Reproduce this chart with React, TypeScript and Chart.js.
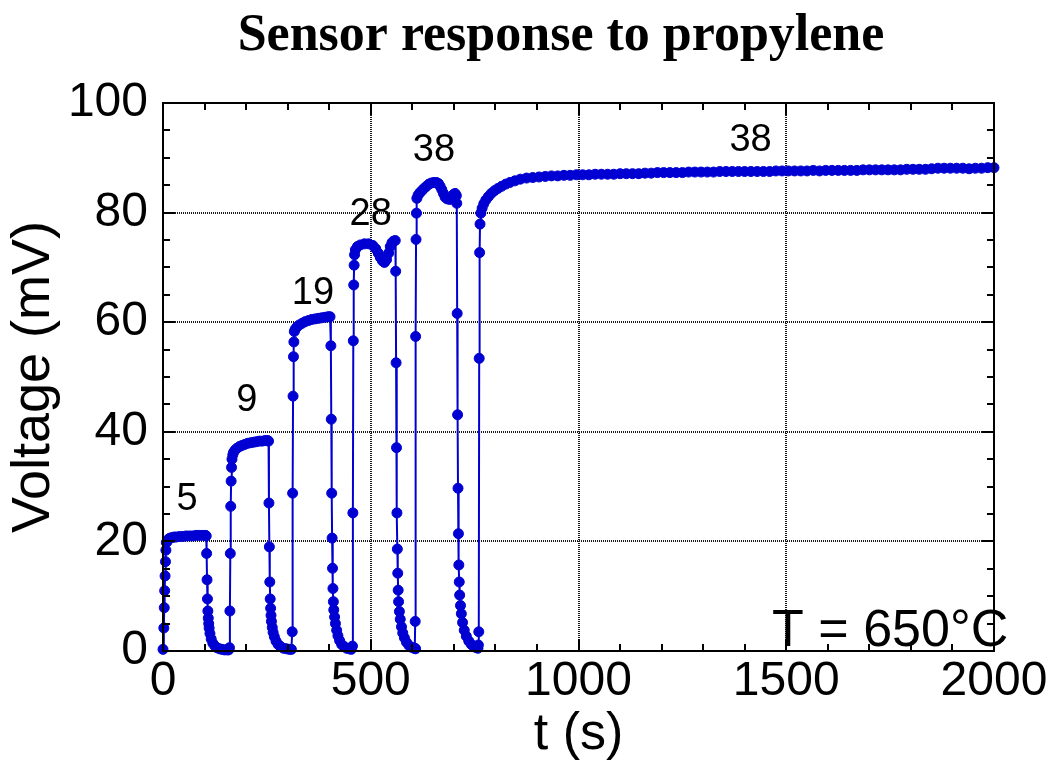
import { useEffect, useRef } from 'react';
import { Chart, registerables } from 'chart.js';

Chart.register(...registerables);

// ---------- data ----------
const chartTitle = 'Sensor response to propylene';
const xAxisTitle = 't (s)';
const yAxisTitle = 'Voltage (mV)';
const xRange = [0, 2000];
const yRange = [0, 100];
const xTickStep = 500;
const yTickStep = 20;

// step 1 (5 ppm)
const step1T = [0, 2, 3, 4, 5, 6, 7, 8, 10, 13, 17, 22, 27, 32, 40, 48, 56, 64, 72, 80, 88, 96, 102, 104, 105, 106, 107, 108, 109, 110, 111, 113, 116, 120, 125, 130, 136, 142, 148, 154, 158];
const step1V = [0.3, 4.2, 7.9, 11.0, 13.7, 16.3, 18.4, 19.8, 20.0, 20.4, 20.6, 20.7, 20.8, 20.8, 20.9, 20.9, 21.0, 21.0, 21.0, 21.1, 21.1, 21.1, 21.1, 21.0, 17.8, 13.0, 9.5, 7.3, 6.0, 5.0, 4.2, 3.2, 2.2, 1.4, 0.9, 0.6, 0.4, 0.3, 0.2, 0.2, 0.2];
// step 2 (9 ppm)
const step2T = [160, 161, 162, 163, 164, 165, 166, 168, 170, 174, 178, 184, 190, 197, 204, 211, 218, 225, 232, 239, 246, 252, 254, 255, 256, 257, 258, 259, 260, 261, 263, 265, 268, 272, 277, 283, 290, 297, 304, 309];
const step2V = [0.6, 7.3, 17.8, 26.4, 31.0, 33.5, 35.0, 35.8, 36.3, 36.7, 37.0, 37.3, 37.5, 37.7, 37.9, 38.0, 38.1, 38.2, 38.3, 38.3, 38.4, 38.4, 38.3, 27.0, 19.0, 12.6, 9.5, 7.8, 6.5, 5.4, 4.3, 3.4, 2.6, 1.8, 1.2, 0.8, 0.5, 0.4, 0.3, 0.3];
// step 3 (19 ppm)
const step3T = [311, 312, 313, 314, 315, 316, 318, 322, 328, 335, 342, 350, 358, 366, 374, 382, 390, 397, 402, 404, 405, 406, 407, 408, 409, 410, 411, 413, 415, 418, 421, 425, 430, 436, 442, 448, 453];
const step3V = [3.5, 28.8, 46.5, 53.7, 56.4, 58.3, 58.7, 59.1, 59.5, 59.8, 60.1, 60.3, 60.5, 60.6, 60.7, 60.8, 60.9, 61.0, 61.0, 55.7, 42.3, 28.8, 20.6, 15.1, 11.4, 9.0, 7.5, 6.2, 5.0, 3.8, 2.8, 1.9, 1.2, 0.8, 0.5, 0.4, 0.3];
// step 4 (28 ppm)
const step4T = [456, 457, 458, 459, 460, 461, 463, 468, 475, 485, 495, 505, 512, 518, 523, 528, 533, 538, 543, 547, 551, 555, 559, 560, 561, 562, 563, 564, 565, 566, 567, 569, 571, 574, 577, 581, 586, 592, 598, 604, 608];
const step4V = [0.9, 25.2, 56.6, 66.8, 70.4, 72.3, 73.2, 73.8, 74.1, 74.3, 74.3, 74.0, 73.4, 72.6, 71.8, 71.2, 70.9, 71.4, 72.6, 73.8, 74.5, 74.8, 74.9, 69.3, 52.6, 37.1, 25.2, 18.6, 14.2, 11.1, 9.0, 7.2, 5.8, 4.4, 3.3, 2.4, 1.6, 1.0, 0.7, 0.5, 0.4];
// step 5 (38 ppm)
const step5T = [606, 607, 608, 609, 610, 611, 614, 618, 623, 628, 634, 640, 646, 652, 658, 663, 667, 671, 675, 679, 684, 690, 695, 699, 703, 706, 707, 708, 709, 710, 711, 712, 713, 714, 716, 718, 721, 725, 730, 736, 742, 748, 754, 758];
const step5V = [0.5, 5.4, 57.4, 75.1, 79.9, 82.6, 83.2, 83.6, 84.0, 84.4, 84.8, 85.2, 85.4, 85.5, 85.5, 85.3, 84.8, 84.2, 83.5, 82.8, 82.5, 82.4, 82.8, 83.3, 83.5, 83.1, 81.7, 61.6, 43.1, 29.7, 21.4, 15.7, 12.6, 10.2, 8.3, 6.8, 5.2, 3.8, 2.7, 1.8, 1.2, 0.8, 0.6, 0.5];
// step 6 (38 ppm, held)
const step6T = [759, 760, 761, 762, 763, 765, 768, 772, 777, 783, 790, 798, 806, 815, 825, 835, 847, 860, 875, 890, 905, 920, 935, 950, 965, 980, 995, 1010, 1025, 1040, 1055, 1070, 1085, 1100, 1115, 1130, 1145, 1160, 1175, 1190, 1205, 1220, 1235, 1250, 1265, 1280, 1295, 1310, 1325, 1340, 1355, 1370, 1385, 1400, 1415, 1430, 1445, 1460, 1475, 1490, 1505, 1520, 1535, 1550, 1565, 1580, 1595, 1610, 1625, 1640, 1655, 1670, 1685, 1700, 1715, 1730, 1745, 1760, 1775, 1790, 1805, 1820, 1835, 1850, 1865, 1880, 1895, 1910, 1925, 1940, 1955, 1970, 1985, 2000];
const step6V = [1.1, 3.5, 53.4, 72.7, 77.9, 79.9, 80.8, 81.6, 82.3, 82.9, 83.5, 84.0, 84.4, 84.8, 85.2, 85.5, 85.8, 86.1, 86.3, 86.4, 86.5, 86.6, 86.7, 86.7, 86.8, 86.8, 86.9, 86.9, 86.9, 87.0, 87.0, 87.0, 87.0, 87.1, 87.1, 87.1, 87.1, 87.2, 87.2, 87.3, 87.3, 87.3, 87.3, 87.3, 87.4, 87.4, 87.4, 87.4, 87.4, 87.5, 87.5, 87.5, 87.5, 87.5, 87.5, 87.5, 87.5, 87.5, 87.6, 87.6, 87.6, 87.6, 87.6, 87.6, 87.7, 87.6, 87.7, 87.7, 87.7, 87.7, 87.7, 87.7, 87.8, 87.8, 87.8, 87.8, 87.8, 87.8, 87.8, 87.9, 87.9, 87.9, 87.9, 88.0, 88.1, 88.1, 88.1, 88.1, 88.1, 88.0, 88.1, 88.1, 88.2, 88.2];

// concentration labels (ppm) placed at data coordinates
const concLabels = ['5', '9', '19', '28', '38', '38'];
const concLabelT = [58, 202, 361, 500, 652, 1414];
const concLabelV = [27.7, 45.8, 65.3, 79.7, 91.4, 93.2];
const tempLabel = 'T = 650°C';
const tempLabelT = 1466;
const tempLabelV = 3.6;

// ---------- styles ----------
const SANS = '"Liberation Sans", Arial, sans-serif';
const SERIF = '"Liberation Serif", "Times New Roman", serif';
const BLUE = 'rgb(0, 0, 210)';

const steps = [
  [step1T, step1V],
  [step2T, step2V],
  [step3T, step3V],
  [step4T, step4V],
  [step5T, step5V],
  [step6T, step6V],
];
const points = steps.flatMap(([t, v]) => t.map((x, i) => ({ x, y: v[i] })));

const decorPlugin = {
  id: 'decor',
  beforeDatasetsDraw(chart: any) {
    const { ctx, chartArea: ca, scales } = chart;
    const xs = scales.x;
    const ys = scales.y;
    ctx.save();
    ctx.strokeStyle = 'rgba(0,0,0,0.9)';
    ctx.lineWidth = 2;
    ctx.setLineDash([1, 1]);
    ctx.beginPath();
    xs.ticks.forEach((t: any) => {
      if (t.value > xs.min && t.value < xs.max) {
        const p = Math.round(xs.getPixelForValue(t.value));
        ctx.moveTo(p, ca.top);
        ctx.lineTo(p, ca.bottom);
      }
    });
    ys.ticks.forEach((t: any) => {
      if (t.value > ys.min && t.value < ys.max) {
        const p = Math.round(ys.getPixelForValue(t.value));
        ctx.moveTo(ca.left, p);
        ctx.lineTo(ca.right, p);
      }
    });
    ctx.stroke();
    ctx.restore();
  },
  afterDatasetsDraw(chart: any) {
    const { ctx, chartArea: ca, scales } = chart;
    const xs = scales.x;
    const ys = scales.y;
    ctx.save();
    ctx.setLineDash([]);
    ctx.strokeStyle = '#000';
    ctx.lineWidth = 2;
    ctx.strokeRect(ca.left, ca.top, ca.right - ca.left, ca.bottom - ca.top);

    const MAJ = 12;
    const MIN = 7;
    ctx.beginPath();
    const xMinorStep = xTickStep / 5;
    for (let v = xs.min; v <= xs.max + 1e-6; v += xMinorStep) {
      const p = Math.round(xs.getPixelForValue(v));
      const len = Math.abs(v % xTickStep) < 1e-6 ? MAJ : MIN;
      ctx.moveTo(p, ca.bottom);
      ctx.lineTo(p, ca.bottom - len);
      ctx.moveTo(p, ca.top);
      ctx.lineTo(p, ca.top + len);
    }
    const yMinorStep = yTickStep / 4;
    for (let v = ys.min; v <= ys.max + 1e-6; v += yMinorStep) {
      const p = Math.round(ys.getPixelForValue(v));
      const len = Math.abs(v % yTickStep) < 1e-6 ? MAJ : MIN;
      ctx.moveTo(ca.left, p);
      ctx.lineTo(ca.left + len, p);
      ctx.moveTo(ca.right, p);
      ctx.lineTo(ca.right - len, p);
    }
    ctx.stroke();

    // annotations
    ctx.fillStyle = '#000';
    ctx.textAlign = 'center';
    ctx.textBaseline = 'middle';
    ctx.font = `38px ${SANS}`;
    concLabels.forEach((txt, i) => {
      ctx.fillText(txt, xs.getPixelForValue(concLabelT[i]), ys.getPixelForValue(concLabelV[i]));
    });
    ctx.textAlign = 'left';
    ctx.font = `52px ${SANS}`;
    ctx.fillText(tempLabel, xs.getPixelForValue(tempLabelT), ys.getPixelForValue(tempLabelV));

    // chart title
    ctx.textAlign = 'center';
    ctx.textBaseline = 'alphabetic';
    ctx.font = `bold 52px ${SERIF}`;
    ctx.fillText(chartTitle, 561, 50);
    ctx.restore();
  },
};

export default function App() {
  const canvasRef = useRef<HTMLCanvasElement | null>(null);

  useEffect(() => {
    const canvas = canvasRef.current;
    if (!canvas) return;
    const chart = new Chart(canvas, {
      type: 'line',
      data: {
        datasets: [
          {
            data: points,
            borderColor: BLUE,
            backgroundColor: BLUE,
            borderWidth: 2,
            pointRadius: 5,
            pointHoverRadius: 5,
            pointBorderWidth: 1,
            pointBackgroundColor: BLUE,
            pointBorderColor: BLUE,
            tension: 0,
            fill: false,
            clip: false as any,
          },
        ],
      },
      options: {
        animation: false,
        responsive: false,
        devicePixelRatio: 1,
        events: [],
        layout: { padding: { top: 103, right: 60, bottom: 0, left: 0 } },
        plugins: {
          legend: { display: false },
          title: { display: false },
          tooltip: { enabled: false },
        },
        scales: {
          x: {
            type: 'linear',
            min: xRange[0],
            max: xRange[1],
            afterFit: (s: any) => {
              s.height = 110;
            },
            grid: { display: false, drawTicks: false },
            border: { display: false },
            ticks: {
              stepSize: xTickStep,
              padding: 2,
              color: '#000',
              font: { family: SANS, size: 48 },
              maxRotation: 0,
              autoSkip: false,
              callback: (v: any) => String(v),
            },
            title: {
              display: true,
              text: xAxisTitle,
              color: '#000',
              font: { family: SANS, size: 52, lineHeight: 1 },
              padding: 0,
            },
          },
          y: {
            type: 'linear',
            min: yRange[0],
            max: yRange[1],
            afterFit: (s: any) => {
              s.width = 163;
            },
            grid: { display: false, drawTicks: false },
            border: { display: false },
            ticks: {
              stepSize: yTickStep,
              padding: 15,
              color: '#000',
              font: { family: SANS, size: 48 },
              callback: (v: any) => String(v),
            },
            title: {
              display: true,
              text: yAxisTitle,
              color: '#000',
              font: { family: SANS, size: 54, lineHeight: 1 },
              padding: { top: 7, bottom: 0 },
            },
          },
        },
      },
      plugins: [decorPlugin],
    });
    return () => chart.destroy();
  }, []);

  return (
    <div style={{ position: 'fixed', left: 0, top: 0, width: 1054, height: 761, background: '#fff' }}>
      <canvas ref={canvasRef} width={1054} height={761} style={{ display: 'block' }} />
    </div>
  );
}
